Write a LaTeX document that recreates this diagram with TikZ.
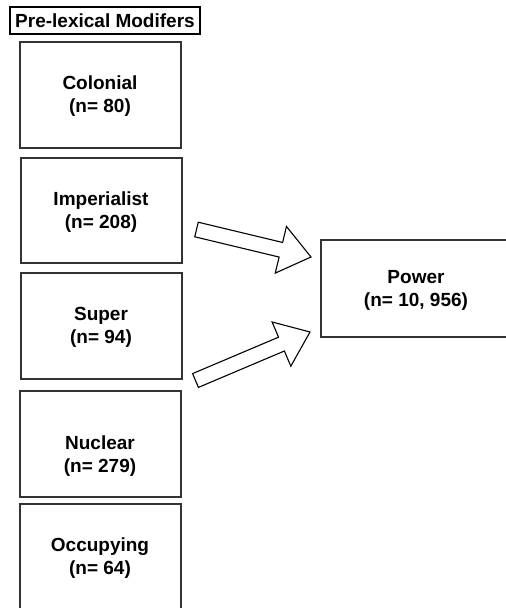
\documentclass[tikz,border=0pt]{standalone}
\usepackage{fontspec}
\setmainfont{Liberation Sans}
\usetikzlibrary{calc}

\definecolor{edge}{HTML}{333333}

\tikzset{
  box/.style={draw=edge, line width=1.4pt, rectangle, inner sep=0pt},
  lbl/.style={align=center, font=\fontsize{19}{23}\selectfont\bfseries, inner sep=0pt},
  bigarrow/.style={draw=black, line width=1.1pt, line join=miter, fill=white},
}

% Hollow block arrow from #1 (tail) to #2 (tip); #3 names the helper coordinate
\newcommand\blockarrow[3]{%
  \coordinate (#3-b) at ($(#2)!31pt!(#1)$);
  \draw[bigarrow]
    ($(#1)!7.5pt!90:(#2)$) -- ($(#3-b)!7.5pt!90:(#2)$) -- ($(#3-b)!24pt!90:(#2)$)
    -- (#2)
    -- ($(#3-b)!24pt!-90:(#2)$) -- ($(#3-b)!7.5pt!-90:(#2)$) -- ($(#1)!7.5pt!-90:(#2)$)
    -- cycle;
}

\begin{document}
\begin{tikzpicture}[x=1pt, y=-1pt]
  \useasboundingbox (0,0) rectangle (506,608);
  \clip (0,0) rectangle (506,608);
  \fill[white] (0,0) rectangle (506,608);

  % heading
  \node[box, line width=1.2pt, draw=black, minimum width=190pt, minimum height=27pt] (title) at (105,20.5) {};
  \node[lbl] (title-text) at (105,21) {Pre-lexical Modifers};

  % modifier boxes
  \node[box, minimum width=161pt, minimum height=106pt] (colonial) at (100.5,95) {};
  \node[lbl] (colonial-text) at (100,96.5) {Colonial\\(n= 80)};

  \node[box, minimum width=161pt, minimum height=105pt] (imperialist) at (101.5,210.5) {};
  \node[lbl] (imperialist-text) at (101,212) {Imperialist\\(n= 208)};

  \node[box, minimum width=161pt, minimum height=106pt] (super) at (101.5,326) {};
  \node[lbl] (super-text) at (101,327.5) {Super\\(n= 94)};

  \node[box, minimum width=161pt, minimum height=106pt] (nuclear) at (100.5,444) {};
  \node[lbl] (nuclear-text) at (100,456.5) {Nuclear\\(n= 279)};

  \node[box, minimum width=161pt, minimum height=108pt] (occupying) at (100.5,558) {};
  \node[lbl] (occupying-text) at (100,558.5) {Occupying\\(n= 64)};

  % head noun
  \node[box, minimum width=200pt, minimum height=97pt] (power) at (421,288.5) {};
  \node[lbl] (power-text) at (416,290) {Power\\(n= 10, 956)};

  % block arrows into the head noun
  \coordinate (imp-tail) at (196.5,229.5);
  \coordinate (imp-tip)  at (311,257);
  \coordinate (sup-tail) at (195.5,380.5);
  \coordinate (sup-tip)  at (310,332);
  \blockarrow{imp-tail}{imp-tip}{imparrow}
  \blockarrow{sup-tail}{sup-tip}{suparrow}
\end{tikzpicture}
\end{document}
